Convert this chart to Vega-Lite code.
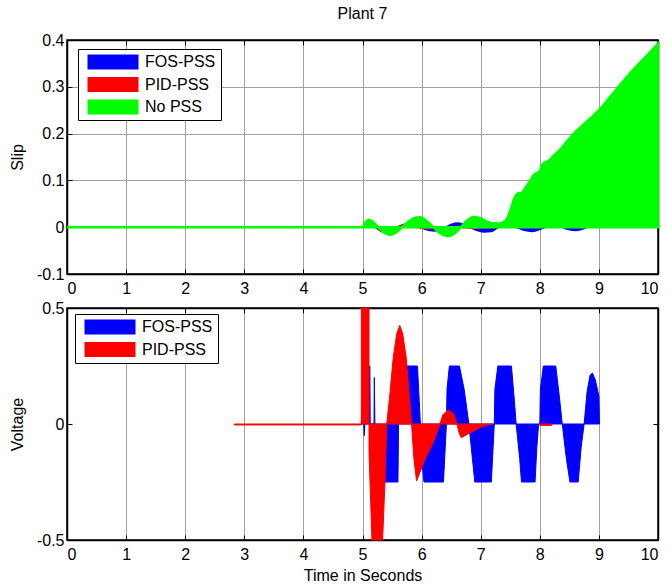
{
  "$schema": "https://vega.github.io/schema/vega-lite/v6.json",
  "background": "white",
  "padding": {"left": 8, "top": 5, "right": 2, "bottom": 0},
  "config": {
    "font": "Liberation Sans",
    "view": {"stroke": "black", "strokeWidth": 1.5},
    "axis": {
      "labelFont": "Liberation Sans", "labelFontSize": 16, "labelColor": "black",
      "titleFont": "Liberation Sans", "titleFontSize": 16, "titleFontWeight": "normal", "titleColor": "black",
      "domainColor": "black", "domainWidth": 1.5,
      "tickColor": "black", "tickSize": -5, "tickWidth": 1,
      "gridColor": "#a0a0a0", "gridWidth": 1
    },
    "axisX": {"labelPadding": 11},
    "axisY": {"labelPadding": 8},
    "legend": {
      "orient": "none",
      "labelFont": "Liberation Sans", "labelFontSize": 16, "labelColor": "black",
      "symbolType": "M-3.4,-1H3.4V1H-3.4Z", "symbolSize": 225, "symbolStrokeWidth": 0,
      "strokeColor": "black", "fillColor": "white",
      "padding": 5, "rowPadding": 6.5, "labelOffset": 24, "symbolOffset": 22
    },
    "title": {"font": "Liberation Sans", "fontSize": 16, "fontWeight": "normal", "color": "black"}
  },
  "datasets": {
    "slipFos": [
      {"t": 0, "v": 0}, {"t": 5, "v": 0}, {"t": 5.1, "v": 0.012}, {"t": 5.2, "v": 0.004},
      {"t": 5.3, "v": -0.008}, {"t": 5.42, "v": -0.012}, {"t": 5.55, "v": -0.004}, {"t": 5.65, "v": 0.004},
      {"t": 5.8, "v": 0.008}, {"t": 5.95, "v": 0.002}, {"t": 6.05, "v": -0.004}, {"t": 6.22, "v": -0.008},
      {"t": 6.38, "v": -0.002}, {"t": 6.5, "v": 0.006}, {"t": 6.62, "v": 0.009}, {"t": 6.75, "v": 0.004},
      {"t": 6.88, "v": -0.004}, {"t": 7.05, "v": -0.01}, {"t": 7.18, "v": -0.009}, {"t": 7.3, "v": 0},
      {"t": 7.45, "v": 0.006}, {"t": 7.6, "v": 0}, {"t": 7.72, "v": -0.006}, {"t": 7.88, "v": -0.009},
      {"t": 8.02, "v": -0.004}, {"t": 8.15, "v": 0.002}, {"t": 8.3, "v": 0.004}, {"t": 8.45, "v": -0.004},
      {"t": 8.6, "v": -0.007}, {"t": 8.75, "v": -0.003}, {"t": 8.9, "v": 0.003}, {"t": 9.05, "v": 0},
      {"t": 10, "v": 0}
    ],
    "slipPid": [
      {"t": 0, "v": 0}, {"t": 5, "v": 0}, {"t": 5.1, "v": 0.008}, {"t": 5.2, "v": 0},
      {"t": 5.3, "v": -0.006}, {"t": 5.4, "v": -0.007}, {"t": 5.5, "v": -0.002}, {"t": 5.62, "v": 0.002},
      {"t": 5.72, "v": 0.004}, {"t": 5.85, "v": 0.001}, {"t": 6, "v": -0.002}, {"t": 6.15, "v": -0.003},
      {"t": 6.3, "v": -0.001}, {"t": 6.5, "v": 0.001}, {"t": 6.7, "v": -0.001}, {"t": 6.85, "v": -0.002},
      {"t": 7, "v": -0.002}, {"t": 7.15, "v": -0.001}, {"t": 7.3, "v": 0}, {"t": 10, "v": 0}
    ],
    "slipNo": [
      {"t": 0, "v": 0}, {"t": 5, "v": 0}, {"t": 5.05, "v": 0.01}, {"t": 5.1, "v": 0.016},
      {"t": 5.17, "v": 0.012}, {"t": 5.25, "v": 0.002}, {"t": 5.35, "v": -0.01}, {"t": 5.46, "v": -0.016},
      {"t": 5.57, "v": -0.011}, {"t": 5.67, "v": 0}, {"t": 5.78, "v": 0.012}, {"t": 5.9, "v": 0.02},
      {"t": 5.98, "v": 0.021}, {"t": 6.08, "v": 0.014}, {"t": 6.18, "v": 0.002}, {"t": 6.3, "v": -0.012},
      {"t": 6.45, "v": -0.019}, {"t": 6.55, "v": -0.014}, {"t": 6.65, "v": -0.002}, {"t": 6.75, "v": 0.012},
      {"t": 6.88, "v": 0.022}, {"t": 6.98, "v": 0.02}, {"t": 7.1, "v": 0.012}, {"t": 7.22, "v": 0.008},
      {"t": 7.32, "v": 0.008}, {"t": 7.42, "v": 0.014}, {"t": 7.5, "v": 0.035}, {"t": 7.57, "v": 0.062},
      {"t": 7.63, "v": 0.072}, {"t": 7.7, "v": 0.074}, {"t": 7.76, "v": 0.085}, {"t": 7.83, "v": 0.098},
      {"t": 7.9, "v": 0.112}, {"t": 8, "v": 0.12}, {"t": 8.05, "v": 0.135}, {"t": 8.15, "v": 0.142},
      {"t": 8.25, "v": 0.155}, {"t": 8.34, "v": 0.165}, {"t": 8.45, "v": 0.182}, {"t": 8.56, "v": 0.198},
      {"t": 8.7, "v": 0.215}, {"t": 8.85, "v": 0.232}, {"t": 9, "v": 0.25}, {"t": 9.2, "v": 0.28},
      {"t": 9.4, "v": 0.31}, {"t": 9.58, "v": 0.336}, {"t": 9.8, "v": 0.365}, {"t": 10, "v": 0.392}
    ],
    "voltFos": [
      {"t": 4.98, "v": 0}, {"t": 5.0, "v": 0.1}, {"t": 5.03, "v": -0.05}, {"t": 5.08, "v": 0.2},
      {"t": 5.11, "v": 0}, {"t": 5.115, "v": 0.25}, {"t": 5.125, "v": 0.25}, {"t": 5.13, "v": 0},
      {"t": 5.195, "v": 0}, {"t": 5.2, "v": 0.2}, {"t": 5.21, "v": 0}, {"t": 5.3, "v": -0.1},
      {"t": 5.38, "v": -0.25}, {"t": 5.6, "v": -0.25}, {"t": 5.61, "v": 0}, {"t": 5.67, "v": 0.15},
      {"t": 5.72, "v": 0.25}, {"t": 5.93, "v": 0.25}, {"t": 5.96, "v": 0.1}, {"t": 5.98, "v": 0},
      {"t": 6.02, "v": -0.2}, {"t": 6.04, "v": -0.25}, {"t": 6.37, "v": -0.25}, {"t": 6.4, "v": -0.1},
      {"t": 6.42, "v": 0}, {"t": 6.43, "v": 0.15}, {"t": 6.47, "v": 0.25}, {"t": 6.64, "v": 0.25},
      {"t": 6.72, "v": 0.15}, {"t": 6.8, "v": 0}, {"t": 6.86, "v": -0.15}, {"t": 6.9, "v": -0.25},
      {"t": 7.18, "v": -0.25}, {"t": 7.21, "v": -0.1}, {"t": 7.23, "v": 0}, {"t": 7.24, "v": 0.15},
      {"t": 7.29, "v": 0.25}, {"t": 7.52, "v": 0.25}, {"t": 7.57, "v": 0.1}, {"t": 7.6, "v": 0},
      {"t": 7.66, "v": -0.15}, {"t": 7.69, "v": -0.25}, {"t": 7.92, "v": -0.25}, {"t": 7.95, "v": -0.1},
      {"t": 7.98, "v": 0}, {"t": 8.0, "v": 0}, {"t": 8.01, "v": 0.15}, {"t": 8.06, "v": 0.25},
      {"t": 8.27, "v": 0.25}, {"t": 8.33, "v": 0.12}, {"t": 8.38, "v": 0}, {"t": 8.45, "v": -0.15},
      {"t": 8.51, "v": -0.25}, {"t": 8.65, "v": -0.25}, {"t": 8.7, "v": -0.1}, {"t": 8.75, "v": 0},
      {"t": 8.8, "v": 0.14}, {"t": 8.85, "v": 0.21}, {"t": 8.89, "v": 0.22}, {"t": 8.94, "v": 0.19},
      {"t": 9.0, "v": 0.12}, {"t": 9.01, "v": 0}
    ],
    "voltPid": [
      {"seg": 1, "t": 2.83, "v": -0.004}, {"seg": 1, "t": 4.98, "v": -0.004}, {"seg": 1, "t": 4.98, "v": 0.5},
      {"seg": 1, "t": 5.11, "v": 0.5}, {"seg": 1, "t": 5.11, "v": -0.12}, {"seg": 1, "t": 5.16, "v": -0.5},
      {"seg": 1, "t": 5.34, "v": -0.5}, {"seg": 1, "t": 5.38, "v": -0.25}, {"seg": 1, "t": 5.41, "v": 0},
      {"seg": 1, "t": 5.46, "v": 0.12}, {"seg": 1, "t": 5.52, "v": 0.286}, {"seg": 1, "t": 5.58, "v": 0.39},
      {"seg": 1, "t": 5.63, "v": 0.425}, {"seg": 1, "t": 5.68, "v": 0.39}, {"seg": 1, "t": 5.74, "v": 0.286},
      {"seg": 1, "t": 5.79, "v": 0.13}, {"seg": 1, "t": 5.83, "v": 0}, {"seg": 1, "t": 5.87, "v": -0.15},
      {"seg": 1, "t": 5.915, "v": -0.246}, {"seg": 1, "t": 5.97, "v": -0.21}, {"seg": 1, "t": 6.08, "v": -0.14},
      {"seg": 1, "t": 6.2, "v": -0.079}, {"seg": 1, "t": 6.31, "v": 0}, {"seg": 1, "t": 6.36, "v": 0.04},
      {"seg": 1, "t": 6.45, "v": 0.06}, {"seg": 1, "t": 6.54, "v": 0.045}, {"seg": 1, "t": 6.6, "v": 0},
      {"seg": 1, "t": 6.63, "v": -0.035}, {"seg": 1, "t": 6.67, "v": -0.059}, {"seg": 1, "t": 6.77, "v": -0.045},
      {"seg": 1, "t": 6.91, "v": -0.026}, {"seg": 1, "t": 7.02, "v": -0.012}, {"seg": 1, "t": 7.13, "v": -0.003},
      {"seg": 1, "t": 7.2, "v": 0},
      {"seg": 2, "t": 8.0, "v": -0.006}, {"seg": 2, "t": 8.2, "v": -0.006}
    ]
  },
  "bounds": "flush",
  "spacing": 34,
  "resolve": {"scale": {"color": "independent", "y": "independent"}, "legend": {"color": "independent"}},
  "vconcat": [
    {
      "width": 591,
      "height": 234,
      "title": {"text": "Plant 7", "anchor": "middle", "offset": 10},
      "resolve": {"axis": {"x": "independent", "y": "independent"}},
      "layer": [
        {
          "data": {"name": "slipFos"},
          "mark": {"type": "area", "interpolate": "monotone", "stroke": "#0000ff", "strokeWidth": 1.5},
          "encoding": {
            "x": {"field": "t", "type": "quantitative", "scale": {"domain": [0, 10], "nice": false},
                  "axis": {"values": [0,1,2,3,4,5,6,7,8,9,10], "title": null, "grid": true}},
            "y": {"field": "v", "type": "quantitative", "scale": {"domain": [-0.1, 0.4], "nice": false, "zero": false},
                  "axis": {"values": [-0.1, 0, 0.1, 0.2, 0.3, 0.4], "labelExpr": "'' + datum.value", "title": "Slip", "titlePadding": 11, "grid": true}},
            "y2": {"datum": 0},
            "color": {"datum": "FOS-PSS",
                      "scale": {"domain": ["FOS-PSS", "PID-PSS", "No PSS"], "range": ["#0000ff", "#ff0000", "#00ff00"]},
                      "legend": {"title": null, "legendX": 11, "legendY": 9, "labelExpr": "datum.label + '  '"}}
          }
        },
        {
          "data": {"name": "slipPid"},
          "mark": {"type": "area", "interpolate": "monotone", "stroke": "#ff0000", "strokeWidth": 1.5},
          "encoding": {
            "x": {"field": "t", "type": "quantitative", "axis": null},
            "y": {"field": "v", "type": "quantitative", "axis": null},
            "y2": {"datum": 0},
            "color": {"datum": "PID-PSS"}
          }
        },
        {
          "data": {"name": "slipNo"},
          "mark": {"type": "area", "interpolate": "monotone", "stroke": "#00ff00", "strokeWidth": 2.5},
          "encoding": {
            "x": {"field": "t", "type": "quantitative",
                  "axis": {"orient": "top", "values": [0,1,2,3,4,5,6,7,8,9,10], "labels": false, "title": null, "grid": false}},
            "y": {"field": "v", "type": "quantitative",
                  "axis": {"orient": "right", "values": [-0.1, 0, 0.1, 0.2, 0.3, 0.4], "labels": false, "title": null, "grid": false}},
            "y2": {"datum": 0},
            "color": {"datum": "No PSS"}
          }
        }
      ]
    },
    {
      "width": 591,
      "height": 232,
      "resolve": {"axis": {"x": "independent", "y": "independent"}},
      "layer": [
        {
          "data": {"name": "voltFos"},
          "mark": {"type": "area", "stroke": "#0000ff", "strokeWidth": 1},
          "encoding": {
            "x": {"field": "t", "type": "quantitative", "scale": {"domain": [0, 10], "nice": false},
                  "axis": {"values": [0,1,2,3,4,5,6,7,8,9,10], "title": "Time in Seconds", "titlePadding": 5, "grid": true}},
            "y": {"field": "v", "type": "quantitative", "scale": {"domain": [-0.5, 0.5], "nice": false},
                  "axis": {"values": [-0.5, 0, 0.5], "labelExpr": "'' + datum.value", "title": "Voltage", "titlePadding": 11, "grid": false}},
            "y2": {"datum": 0},
            "color": {"datum": "FOS-PSS",
                      "scale": {"domain": ["FOS-PSS", "PID-PSS"], "range": ["#0000ff", "#ff0000"]},
                      "legend": {"title": null, "legendX": 8, "legendY": 6, "labelExpr": "datum.label + '  '"}}
          }
        },
        {
          "data": {"name": "voltPid"},
          "mark": {"type": "area", "stroke": "#ff0000", "strokeWidth": 1},
          "encoding": {
            "x": {"field": "t", "type": "quantitative", "axis": null},
            "y": {"field": "v", "type": "quantitative", "axis": null},
            "y2": {"datum": 0},
            "detail": {"field": "seg", "type": "nominal"},
            "color": {"datum": "PID-PSS"}
          }
        },
        {
          "mark": {"type": "rule", "color": "#404040", "strokeWidth": 2},
          "encoding": {
            "y": {"datum": 0, "type": "quantitative", "axis": null}
          }
        },
        {
          "data": {"name": "voltFos"},
          "mark": {"type": "point", "opacity": 0},
          "encoding": {
            "x": {"field": "t", "type": "quantitative",
                  "axis": {"orient": "top", "values": [0,1,2,3,4,5,6,7,8,9,10], "labels": false, "title": null, "grid": false}},
            "y": {"field": "v", "type": "quantitative",
                  "axis": {"orient": "right", "values": [-0.5, 0, 0.5], "labels": false, "title": null, "grid": false}}
          }
        }
      ]
    }
  ]
}
